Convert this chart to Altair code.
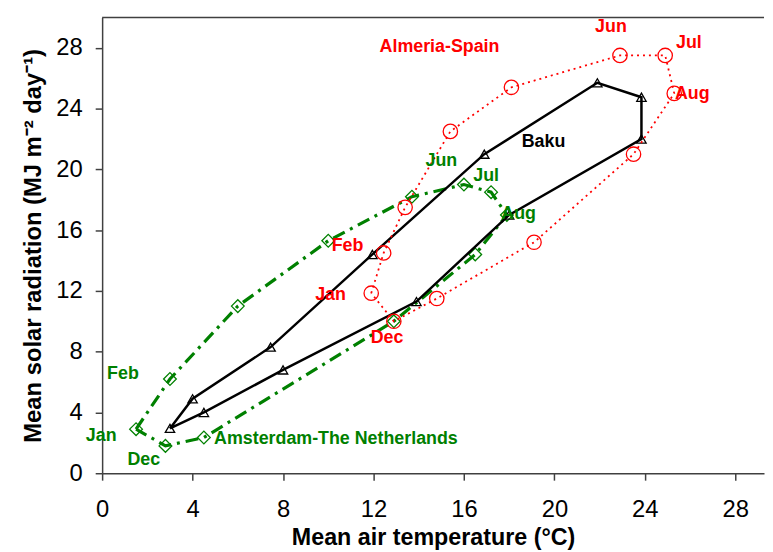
import altair as alt
import pandas as pd

months = ["Jan", "Feb", "Mar", "Apr", "May", "Jun", "Jul", "Aug", "Sep", "Oct", "Nov", "Dec"]

# Baku (black, triangles, solid)
baku_temp = [3.0, 4.0, 7.45, 11.95, 16.9, 21.9, 23.85, 23.85, 18.0, 13.9, 8.0, 4.5]
baku_rad = [2.95, 4.9, 8.3, 14.4, 21.0, 25.7, 24.75, 22.0, 17.0, 11.3, 6.8, 4.0]

# Amsterdam (green, diamonds, dash-dot)
ams_temp = [1.5, 3.0, 6.0, 10.0, 13.7, 16.0, 17.2, 17.9, 16.5, 12.9, 4.5, 2.8]
ams_rad = [2.9, 6.2, 11.0, 15.3, 18.2, 19.0, 18.5, 17.0, 14.4, 10.0, 2.35, 1.8]

# Almeria (red, circles, dotted)
alm_temp = [11.9, 12.45, 13.4, 15.4, 18.1, 22.9, 24.9, 25.3, 23.5, 19.1, 14.8, 12.9]
alm_rad = [11.85, 14.5, 17.5, 22.5, 25.4, 27.5, 27.5, 25.0, 21.0, 15.2, 11.5, 10.0]

# Annotations
lab_text = ["Almeria-Spain", "Jun", "Jul", "Aug", "Feb", "Jan", "Dec",
            "Baku",
            "Jun", "Jul", "Aug", "Feb", "Jan", "Dec"]
lab_x = [14.92, 22.5, 25.95, 26.1, 10.85, 10.1, 12.6,
         19.52,
         15.0, 16.98, 18.42, 0.92, -0.04, 1.84]
lab_y = [28.04, 29.4, 28.3, 24.98, 14.93, 11.74, 8.87,
         21.78,
         20.55, 19.57, 17.09, 6.52, 2.48, 0.85]
lab_color = ["#FF0000"] * 7 + ["#000000"] + ["#008000"] * 6

ams_name = ["Amsterdam-The Netherlands"]
ams_name_x = [4.95]
ams_name_y = [2.28]

x_ticks = [0, 4, 8, 12, 16, 20, 24, 28]
y_ticks = [0, 4, 8, 12, 16, 20, 24, 28]

FONT = "Liberation Sans"


def path_df(xs, ys):
    rows = [{"order": i, "month": m, "temp": x, "rad": y}
            for i, (m, x, y) in enumerate(zip(months, xs, ys))]
    closing = dict(rows[0])
    closing["order"] = 12
    rows.append(closing)
    return pd.DataFrame(rows)


xscale = alt.Scale(domain=[0, 29.27], nice=False, zero=False)
yscale = alt.Scale(domain=[0, 30], nice=False, zero=False)

xenc = alt.X("temp:Q", scale=xscale,
             axis=alt.Axis(values=x_ticks, grid=False, tickSize=7, labelPadding=18,
                           labelFlush=False, labelFontSize=24, labelFont=FONT,
                           labelColor="#000000", title="Mean air temperature (°C)",
                           titleFont=FONT, titleFontSize=23.5, titleFontWeight="bold",
                           titleColor="#000000", titlePadding=4,
                           domainColor="#404040", tickColor="#404040",
                           domainWidth=1.5, tickWidth=1.5))
yenc = alt.Y("rad:Q", scale=yscale,
             axis=alt.Axis(values=y_ticks, grid=False, tickSize=7, labelPadding=13,
                           labelFlush=False, labelFontSize=24, labelFont=FONT,
                           labelColor="#000000",
                           title="Mean solar radiation (MJ m⁻² day⁻¹)",
                           titleFont=FONT, titleFontSize=24, titleFontWeight="bold",
                           titleColor="#000000", titlePadding=10,
                           domainColor="#404040", tickColor="#404040",
                           domainWidth=1.5, tickWidth=1.5))


def series(xs, ys, color, dash, width, shape, size):
    df = path_df(xs, ys)
    base = alt.Chart(df)
    lkw = dict(color=color, strokeWidth=width)
    if dash:
        lkw["strokeDash"] = dash
    line = base.mark_line(**lkw).encode(x=xenc, y=yenc, order="order:Q")
    pts = alt.Chart(df[df["order"] < 12]).mark_point(
        shape=shape, size=size, color=color, filled=False, strokeWidth=1.3, opacity=1
    ).encode(x=xenc, y=yenc)
    return line, pts


g_line, g_pts = series(ams_temp, ams_rad, "#008000", [13, 6, 3, 6], 3.2, "diamond", 165)
b_line, b_pts = series(baku_temp, baku_rad, "#000000", None, 2.5, "triangle-up", 90)
r_line, r_pts = series(alm_temp, alm_rad, "#FF0000", [2, 4], 1.8, "circle", 210)

top_rule = alt.Chart(pd.DataFrame({"v": [30]})).mark_rule(color="#404040", strokeWidth=1.5).encode(
    y=alt.Y("v:Q", scale=yscale)
)

lab_df = pd.DataFrame({"text": lab_text, "temp": lab_x, "rad": lab_y, "color": lab_color})
labels = alt.Chart(lab_df).mark_text(font=FONT, fontSize=18, fontWeight="bold",
                                     align="center", baseline="middle").encode(
    x=alt.X("temp:Q", scale=xscale), y=alt.Y("rad:Q", scale=yscale),
    text="text:N", color=alt.Color("color:N", scale=None)
)

ams_df = pd.DataFrame({"text": ams_name, "temp": ams_name_x, "rad": ams_name_y})
ams_label = alt.Chart(ams_df).mark_text(font=FONT, fontSize=18, fontWeight="bold",
                                        align="left", baseline="middle", color="#008000").encode(
    x=alt.X("temp:Q", scale=xscale), y=alt.Y("rad:Q", scale=yscale), text="text:N"
)

chart = alt.layer(
    g_line, g_pts, b_line, b_pts, r_line, r_pts, top_rule, labels, ams_label
).properties(
    width=668, height=460,
    autosize=alt.AutoSizeParams(type="none"),
    padding={"left": 95, "top": 7, "right": 1, "bottom": 80},
).configure_view(stroke=None)

chart.save("out.html", embed_options={"renderer": "svg", "actions": False})
